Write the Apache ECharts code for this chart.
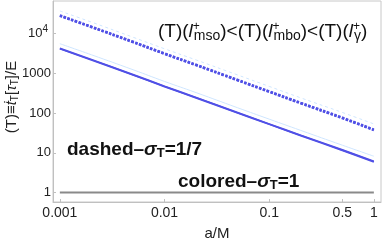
<!DOCTYPE html>
<html><head><meta charset="utf-8">
<script src="https://cdn.jsdelivr.net/npm/echarts@6/dist/echarts.min.js"></script>
<style>html,body{margin:0;padding:0;background:#fff}#c{width:382px;height:240px}</style>
</head><body><div id="c"></div>
<script>
const aVals = [0.001, 0.002, 0.005, 0.01, 0.02, 0.05, 0.1, 0.2, 0.5, 1];
// sigma_T = 1 (solid)
const msoSolid = [4100, 2150, 900, 460, 240, 100, 52, 27, 11.5, 5.9];
const mboSolid = [4200, 2200, 920, 470, 245, 102, 53, 27.6, 11.8, 6.1];
const gamSolid = [5500, 2900, 1220, 620, 325, 135, 70, 36.5, 15.5, 8.2];
// sigma_T = 1/7 (dashed)
const msoDash = [27500, 14400, 6000, 3050, 1590, 660, 340, 175, 74, 37];
const mboDash = [28200, 14700, 6150, 3120, 1630, 675, 348, 180, 76, 38];
const gamDash = [36500, 19200, 8000, 4100, 2150, 900, 465, 240, 103, 53];
// colored (sigma_T = 1 reference)
const refLine = [1, 1, 1, 1, 1, 1, 1, 1, 1, 1];
const xTicks = [0.001, 0.01, 0.1, 0.5, 1];
const yTicks = [1, 10, 100, 1000, 10000];

const pair = arr => aVals.map((a, i) => [a, arr[i]]);
const blue = '#5050e6', light = '#cfe6ff';
const font = 'Liberation Sans, Arial, sans-serif';

const chart = echarts.init(document.getElementById('c'), null, {renderer: 'canvas'});
chart.setOption({
  animation: false,
  textStyle: {fontFamily: font},
  grid: {left: 53, right: 1, top: 1, bottom: 38, show: true, borderColor: '#c8c8c8', borderWidth: 1,
         containLabel: false, outerBoundsMode: 'none'},
  xAxis: {
    type: 'log', logBase: 10, min: 0.00086, max: 1.17,
    name: 'a/M', nameLocation: 'middle', nameGap: 24,
    nameTextStyle: {color: '#222', fontSize: 15, fontFamily: font},
    axisLine: {lineStyle: {color: '#c0c0c0'}},
    axisTick: {inside: true, length: 3, customValues: xTicks, lineStyle: {color: '#c0c0c0'}},
    minorTick: {show: false},
    splitLine: {show: false},
    axisLabel: {customValues: xTicks, color: '#222', fontSize: 14, fontFamily: font, margin: 4,
      formatter: v => String(v)}
  },
  yAxis: {
    type: 'log', logBase: 10, min: 0.58, max: 65000,
    axisLine: {show: true, lineStyle: {color: '#c0c0c0'}},
    axisTick: {inside: true, length: 3, customValues: yTicks, lineStyle: {color: '#c0c0c0'}},
    minorTick: {show: false},
    splitLine: {show: false},
    axisLabel: {customValues: yTicks, color: '#222', fontSize: 13, fontFamily: font, margin: 2,
      formatter: v => v >= 9999 ? '{b|10}{p|4}' : String(Math.round(v)),
      rich: {b: {fontSize: 13, color: '#222'}, p: {fontSize: 10, color: '#222', verticalAlign: 'top', padding: [0, 3, 8, 0]}}}
  },
  series: [
    {type: 'line', data: pair(refLine), showSymbol: false, lineStyle: {color: '#8a8a8a', width: 2}, z: 1},
    {type: 'line', data: pair(gamDash), showSymbol: false, smooth: true, lineStyle: {color: light, width: 1, type: [3, 3]}},
    {type: 'line', data: pair(mboDash), showSymbol: false, smooth: true, lineStyle: {color: blue, width: 2.5, type: [2.5, 1.5]}},
    {type: 'line', data: pair(msoDash), showSymbol: false, smooth: true, lineStyle: {color: blue, width: 2.5, type: [2.5, 1.5]}},
    {type: 'line', data: pair(gamSolid), showSymbol: false, smooth: true, lineStyle: {color: light, width: 1}},
    {type: 'line', data: pair(mboSolid), showSymbol: false, smooth: true, lineStyle: {color: blue, width: 1.7}},
    {type: 'line', data: pair(msoSolid), showSymbol: false, smooth: true, lineStyle: {color: blue, width: 1.7}}
  ],
  graphic: [
    {type: 'text', x: 12, y: 97, rotation: Math.PI / 2, style: {
      text: '{n|(T)≡}{i|ṫ}{s|T}{n|[}{i|τ}{s|T}{n|]/E}', align: 'center', verticalAlign: 'middle', fill: '#222',
      rich: {n: {fontSize: 15, fontFamily: font, fill: '#222'},
             i: {fontSize: 15, fontFamily: font, fontStyle: 'italic', fill: '#222'},
             s: {fontSize: 10, fontFamily: font, fill: '#222', verticalAlign: 'bottom', padding: [7, 0, 0, 0]}}}},
    {type: 'text', left: 158, top: 21, style: {
      text: '{n|(T)(}{i|l}{p|+}{s|mso}{n|)<(T)(}{i|l}{p|+}{s|mbo}{n|)<(T)(}{i|l}{p|+}{s|γ}{n|)}',
      fill: '#111',
      rich: {n: {fontSize: 19, fontFamily: font, fill: '#111'},
             i: {fontSize: 19, fontFamily: font, fontStyle: 'italic', fill: '#111'},
             p: {fontSize: 12, fontFamily: font, fill: '#111', width: 1, verticalAlign: 'top', padding: [0, 0, 10, 0]},
             s: {fontSize: 14, fontFamily: font, fill: '#111', verticalAlign: 'bottom', padding: [8, 0, 0, 0]}}}},
    {type: 'text', left: 67, top: 140, style: {
      text: '{b|dashed–}{g|σ}{s|T}{b|=1/7}', fill: '#111',
      rich: {b: {fontSize: 19, fontWeight: 'bold', fontFamily: font, fill: '#111'},
             g: {fontSize: 19, fontWeight: 'bold', fontStyle: 'italic', fontFamily: font, fill: '#111'},
             s: {fontSize: 13, fontWeight: 'bold', fontFamily: font, fill: '#111', verticalAlign: 'bottom', padding: [8, 0, 0, 0]}}}},
    {type: 'text', left: 178, top: 172, style: {
      text: '{b|colored–}{g|σ}{s|T}{b|=1}', fill: '#111',
      rich: {b: {fontSize: 19, fontWeight: 'bold', fontFamily: font, fill: '#111'},
             g: {fontSize: 19, fontWeight: 'bold', fontStyle: 'italic', fontFamily: font, fill: '#111'},
             s: {fontSize: 13, fontWeight: 'bold', fontFamily: font, fill: '#111', verticalAlign: 'bottom', padding: [8, 0, 0, 0]}}}}
  ]
});
</script></body></html>
